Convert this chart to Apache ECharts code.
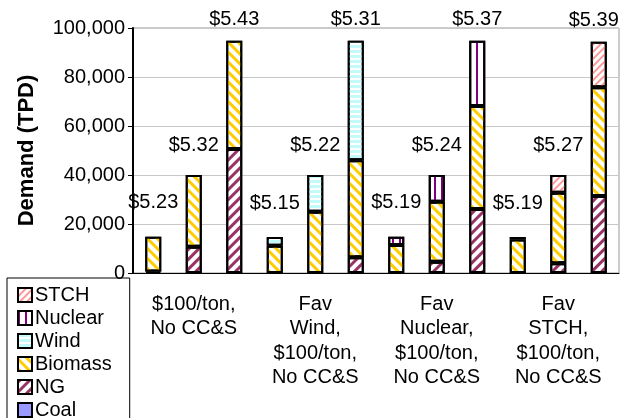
<!DOCTYPE html>
<html>
<head>
<meta charset="utf-8">
<script src="https://cdn.jsdelivr.net/npm/echarts@6/dist/echarts.min.js"></script>
<style>
  html, body { margin: 0; padding: 0; background: #fff; }
  #chart { width: 621px; height: 418px; }
</style>
</head>
<body>
<div id="chart"></div>
<script>
// scenarios (3 bars each)
var groups = ['$100/ton,\nNo CC&S', 'Fav\nWind,\n$100/ton,\nNo CC&S', 'Fav\nNuclear,\n$100/ton,\nNo CC&S', 'Fav\nSTCH,\n$100/ton,\nNo CC&S'];
var slots = ['G1-1', 'G1-2', 'G1-3', 'G2-1', 'G2-2', 'G2-3', 'G3-1', 'G3-2', 'G3-3', 'G4-1', 'G4-2', 'G4-3'];

// demand by source (TPD)
var coal    = [600, 0, 0, 0, 0, 0, 0, 0, 0, 0, 0, 0];
var ng      = [0, 10700, 50600, 0, 0, 6400, 0, 4600, 26100, 0, 4000, 31400];
var biomass = [14200, 29300, 44200, 11100, 25000, 39600, 11400, 24500, 42100, 13700, 28800, 44400];
var wind    = [0, 0, 0, 3600, 15000, 48800, 0, 0, 0, 0, 0, 0];
var nuclear = [0, 0, 0, 0, 0, 0, 3400, 10900, 26600, 0, 0, 0];
var stch    = [0, 0, 0, 0, 0, 0, 0, 0, 0, 1000, 7200, 18600];

// hydrogen price labels
var prices = [5.23, 5.32, 5.43, 5.15, 5.22, 5.31, 5.19, 5.24, 5.37, 5.19, 5.27, 5.39];

var font = 'Liberation Sans, Arial, sans-serif';

function clean(arr) {
    return arr.map(function (v) { return v ? v : '-'; });
}

function barSeries(name, data, color, decal) {
    var s = {
        name: name,
        type: 'bar',
        stack: 'total',
        barWidth: 16,
        data: clean(data),
        itemStyle: {
            color: color,
            borderColor: '#000',
            borderWidth: 2
        }
    };
    if (decal) s.itemStyle.decal = decal;
    return s;
}

var totals = slots.map(function (s, i) {
    return coal[i] + ng[i] + biomass[i] + wind[i] + nuclear[i] + stch[i];
});
var labelGap = [24, 20, 11];

var chart = echarts.init(document.getElementById('chart'));

var option = {
    animation: false,
    textStyle: { fontFamily: font },
    grid: {
        left: 133, right: 2, top: 28, bottom: 145,
        show: true,
        borderColor: '#999',
        borderWidth: 1
    },
    legend: {
        orient: 'vertical',
        left: 7,
        top: 278,
        height: 170,
        data: ['STCH', 'Nuclear', 'Wind', 'Biomass', 'NG', 'Coal'],
        icon: 'rect',
        itemWidth: 14,
        itemHeight: 14,
        itemGap: 3,
        borderColor: '#000',
        borderWidth: 1,
        borderRadius: 0,
        padding: [7, 18, 5, 10],
        textStyle: { fontSize: 20, lineHeight: 20, color: '#000', fontFamily: font, padding: [0, 0, 0, -2] }
    },
    xAxis: {
        type: 'category',
        data: slots,
        axisLine: { lineStyle: { color: '#000', width: 1 } },
        axisTick: { interval: 0, length: 6, lineStyle: { color: '#000' } },
        axisLabel: {
            interval: 0,
            margin: 19,
            fontSize: 20,
            lineHeight: 24.5,
            color: '#000',
            fontFamily: font,
            formatter: function (v, i) {
                return i % 3 === 1 ? groups[Math.floor(i / 3)] : '';
            }
        }
    },
    yAxis: {
        type: 'value',
        min: 0,
        max: 100000,
        interval: 20000,
        name: 'Demand (TPD)',
        nameLocation: 'middle',
        nameGap: 95,
        nameTextStyle: { fontSize: 22, fontWeight: 'bold', color: '#000', fontFamily: font },
        axisLine: { show: true, lineStyle: { color: '#000', width: 2 } },
        axisTick: { show: true, length: 5, lineStyle: { color: '#000' } },
        axisLabel: {
            fontSize: 20,
            color: '#000',
            margin: 8,
            fontFamily: font,
            formatter: function (v) { return String(v).replace(/\B(?=(\d{3})+(?!\d))/g, ','); }
        },
        splitLine: { lineStyle: { color: '#c8c8c8' } }
    },
    series: [
        barSeries('Coal', coal, '#9999ff'),
        barSeries('NG', ng, '#fff', {
            symbol: 'rect', symbolSize: 1, dashArrayX: [1, 0], dashArrayY: [3, 4],
            rotation: -Math.PI / 4, color: '#993366'
        }),
        barSeries('Biomass', biomass, '#fff', {
            symbol: 'rect', symbolSize: 1, dashArrayX: [1, 0], dashArrayY: [3, 4],
            rotation: Math.PI / 4, color: '#ffcc00'
        }),
        barSeries('Wind', wind, '#fff', {
            symbol: 'rect', symbolSize: 1, dashArrayX: [1, 0], dashArrayY: [3, 1.5],
            rotation: 0, color: '#c4fafa'
        }),
        barSeries('Nuclear', nuclear, '#fff', {
            symbol: 'rect', symbolSize: 1, dashArrayX: [2, 5], dashArrayY: [1, 0],
            rotation: 0, color: '#800080'
        }),
        barSeries('STCH', stch, '#fff', {
            symbol: 'rect', symbolSize: 1, dashArrayX: [1, 0], dashArrayY: [1.5, 2.5],
            rotation: -Math.PI / 4, color: '#ff9999'
        }),
        {
            name: 'Price',
            type: 'scatter',
            symbolSize: 0,
            silent: true,
            itemStyle: { opacity: 1 },
            data: totals.map(function (t, i) {
                return {
                    value: t,
                    label: {
                        distance: labelGap[i % 3],
                        offset: i === totals.length - 1 ? [-5, 0] : [0, 0]
                    }
                };
            }),
            label: {
                show: true,
                position: 'top',
                fontSize: 20,
                color: '#000',
                fontFamily: font,
                formatter: function (p) { return '$' + prices[p.dataIndex].toFixed(2); }
            }
        }
    ]
};

chart.setOption(option);
</script>
</body>
</html>
